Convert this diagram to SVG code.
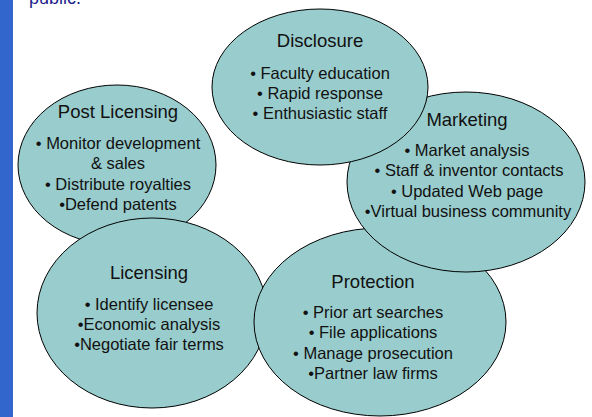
<svg xmlns="http://www.w3.org/2000/svg" width="592" height="417" viewBox="0 0 592 417">
<style>
.e{fill:#99CCCC;stroke:#000;stroke-width:1}
.t{font-family:"Liberation Sans",Arial,sans-serif;fill:#111;text-anchor:middle}
.h{font-size:18.5px}
.b{font-size:16.5px}
</style>
<rect x="0" y="0" width="592" height="417" fill="#fff"/>
<rect x="0" y="0" width="13" height="417" fill="#3366CC"/>
<text x="29" y="4" font-family="Liberation Sans, Arial, sans-serif" font-size="18px" fill="#1C1C8C">public.</text>
<g id="post-licensing">
<ellipse class="e" cx="117" cy="165" rx="99" ry="80"/>
<text class="t h" x="118" y="118">Post Licensing</text>
<text class="t b" x="118" y="149">• Monitor development</text>
<text class="t b" x="118" y="169">&amp; sales</text>
<text class="t b" x="118" y="190">• Distribute royalties</text>
<text class="t b" x="118" y="210">•Defend patents</text>
</g>
<g id="licensing">
<ellipse class="e" cx="152" cy="313" rx="115" ry="95"/>
<text class="t h" x="149" y="279">Licensing</text>
<text class="t b" x="149" y="310">• Identify licensee</text>
<text class="t b" x="149" y="330">•Economic analysis</text>
<text class="t b" x="149" y="350">•Negotiate fair terms</text>
</g>
<g id="protection">
<ellipse class="e" cx="380" cy="322" rx="126" ry="94"/>
<text class="t h" x="373" y="288">Protection</text>
<text class="t b" x="373" y="318">• Prior art searches</text>
<text class="t b" x="373" y="338">• File applications</text>
<text class="t b" x="373" y="359">• Manage prosecution</text>
<text class="t b" x="373" y="379">•Partner law firms</text>
</g>
<g id="marketing">
<ellipse class="e" cx="466" cy="182" rx="119" ry="90"/>
<text class="t h" x="467" y="126">Marketing</text>
<text class="t b" x="467" y="156">• Market analysis</text>
<text class="t b" x="469" y="176">• Staff &amp; inventor contacts</text>
<text class="t b" x="467" y="197">• Updated Web page</text>
<text class="t b" x="468" y="217">•Virtual business community</text>
</g>
<g id="disclosure">
<ellipse class="e" cx="320" cy="87" rx="108" ry="78"/>
<text class="t h" x="320" y="47">Disclosure</text>
<text class="t b" x="320" y="79">• Faculty education</text>
<text class="t b" x="320" y="99">• Rapid response</text>
<text class="t b" x="320" y="119">• Enthusiastic staff</text>
</g>
<g id="connectors"/>
</svg>
